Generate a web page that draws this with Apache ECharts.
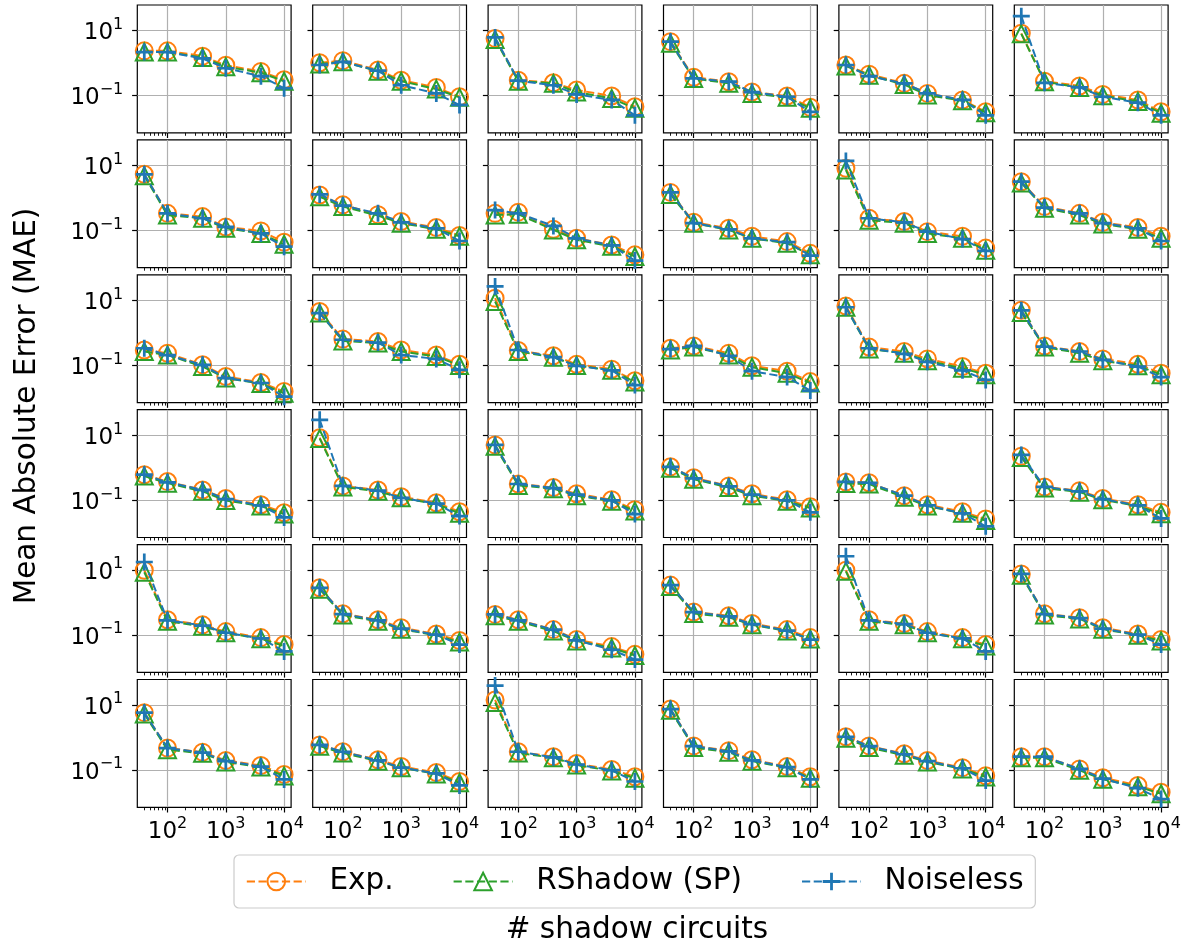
<!DOCTYPE html>
<html><head><meta charset="utf-8">
<script src="https://cdn.jsdelivr.net/npm/echarts@6/dist/echarts.min.js"></script>
<style>html,body{margin:0;padding:0;background:#fff}#c{width:1184px;height:951px}</style>
</head><body><div id="c"></div>
<script>
// ---- data ----
const shadowCounts = [40, 100, 400, 1000, 4000, 10000];
const seriesNames = ['Exp.', 'RShadow (SP)', 'Noiseless'];
const yTickExponents = [-1, 1];
const xTickExponents = [2, 3, 4];
const yTitle = 'Mean Absolute Error (MAE)';
const xTitle = '# shadow circuits';

const expMAE = [
  [2.4,2.4,1.65,0.86,0.56,0.31],
  [1.03,1.2,0.62,0.30,0.18,0.093],
  [5.8,0.30,0.25,0.15,0.098,0.046],
  [4.6,0.37,0.27,0.13,0.098,0.044],
  [0.88,0.46,0.24,0.118,0.074,0.032],
  [8.3,0.28,0.20,0.11,0.074,0.032],
  [5.4,0.34,0.27,0.13,0.098,0.044],
  [1.25,0.62,0.31,0.19,0.125,0.071],
  [0.34,0.37,0.11,0.058,0.036,0.018],
  [1.5,0.18,0.118,0.067,0.046,0.020],
  [8.3,0.24,0.19,0.093,0.067,0.029],
  [3.2,0.55,0.34,0.18,0.125,0.067],
  [0.30,0.24,0.105,0.046,0.030,0.016],
  [4.6,0.65,0.55,0.30,0.21,0.11],
  [11.8,0.29,0.20,0.11,0.077,0.034],
  [0.34,0.40,0.24,0.098,0.067,0.032],
  [6.8,0.37,0.27,0.16,0.093,0.058],
  [5.0,0.40,0.27,0.16,0.11,0.058],
  [0.62,0.38,0.21,0.115,0.074,0.042],
  [8.5,0.28,0.21,0.13,0.085,0.045],
  [5.1,0.32,0.25,0.16,0.105,0.052],
  [1.08,0.50,0.28,0.16,0.105,0.064],
  [0.37,0.35,0.14,0.074,0.045,0.027],
  [2.3,0.26,0.20,0.115,0.074,0.043],
  [10,0.30,0.21,0.13,0.085,0.052],
  [2.9,0.46,0.30,0.17,0.11,0.069],
  [0.44,0.30,0.15,0.074,0.045,0.026],
  [3.5,0.52,0.40,0.23,0.15,0.085],
  [10,0.30,0.23,0.13,0.085,0.052],
  [7.7,0.46,0.35,0.17,0.11,0.074],
  [5.9,0.48,0.36,0.20,0.14,0.074],
  [0.6,0.37,0.21,0.13,0.085,0.045],
  [14.5,0.37,0.26,0.16,0.105,0.063],
  [7.6,0.56,0.40,0.21,0.13,0.063],
  [1.07,0.56,0.32,0.20,0.12,0.068],
  [0.26,0.26,0.11,0.059,0.034,0.021]
];
const rshadowMAE = [
  [2.2,2.2,1.5,0.78,0.51,0.28],
  [0.94,1.1,0.57,0.28,0.16,0.089],
  [5.4,0.28,0.24,0.13,0.082,0.041],
  [4.1,0.34,0.24,0.118,0.089,0.041],
  [0.82,0.43,0.22,0.105,0.07,0.030],
  [8.0,0.27,0.18,0.10,0.067,0.029],
  [4.9,0.30,0.24,0.118,0.082,0.038],
  [1.1,0.55,0.29,0.17,0.11,0.067],
  [0.30,0.32,0.105,0.052,0.033,0.016],
  [1.3,0.17,0.105,0.058,0.041,0.018],
  [7.3,0.21,0.17,0.082,0.058,0.025],
  [2.9,0.49,0.30,0.16,0.11,0.058],
  [0.27,0.21,0.093,0.041,0.028,0.014],
  [4.1,0.57,0.49,0.27,0.19,0.10],
  [9.3,0.27,0.18,0.10,0.071,0.031],
  [0.30,0.37,0.21,0.089,0.058,0.029],
  [6.2,0.32,0.24,0.14,0.082,0.052],
  [4.3,0.37,0.24,0.14,0.098,0.052],
  [0.56,0.34,0.19,0.10,0.067,0.038],
  [8.0,0.26,0.19,0.12,0.078,0.040],
  [4.6,0.29,0.23,0.14,0.095,0.047],
  [0.98,0.45,0.25,0.14,0.095,0.058],
  [0.33,0.32,0.125,0.067,0.040,0.024],
  [2.1,0.24,0.18,0.105,0.067,0.039],
  [8.7,0.27,0.19,0.12,0.078,0.047],
  [2.6,0.42,0.27,0.155,0.10,0.062],
  [0.40,0.27,0.135,0.067,0.041,0.024],
  [3.2,0.47,0.36,0.21,0.135,0.077],
  [9.3,0.27,0.21,0.12,0.078,0.047],
  [7.0,0.42,0.32,0.155,0.10,0.067],
  [5.4,0.43,0.33,0.18,0.125,0.067],
  [0.55,0.34,0.19,0.12,0.077,0.041],
  [12,0.34,0.24,0.145,0.095,0.057],
  [7.0,0.50,0.36,0.19,0.12,0.057],
  [0.97,0.50,0.29,0.18,0.11,0.062],
  [0.24,0.24,0.10,0.053,0.031,0.019]
];
const noiselessMAE = [
  [2.2,2.2,1.4,0.70,0.40,0.17],
  [0.88,1.1,0.59,0.21,0.118,0.052],
  [6.2,0.29,0.21,0.11,0.074,0.025],
  [4.6,0.34,0.27,0.13,0.093,0.032],
  [0.88,0.40,0.24,0.118,0.074,0.025],
  [28,0.25,0.18,0.093,0.061,0.025],
  [5.4,0.34,0.24,0.13,0.082,0.032],
  [1.3,0.59,0.34,0.18,0.118,0.048],
  [0.43,0.34,0.14,0.058,0.035,0.012],
  [1.5,0.17,0.11,0.058,0.044,0.017],
  [13.9,0.24,0.18,0.093,0.055,0.024],
  [3.2,0.51,0.34,0.17,0.118,0.048],
  [0.34,0.21,0.105,0.041,0.029,0.011],
  [4.1,0.62,0.51,0.21,0.16,0.074],
  [27,0.30,0.18,0.098,0.071,0.025],
  [0.32,0.40,0.20,0.067,0.044,0.017],
  [6.2,0.34,0.23,0.13,0.071,0.036],
  [5.0,0.38,0.27,0.15,0.093,0.044],
  [0.62,0.36,0.21,0.11,0.07,0.03],
  [30,0.28,0.20,0.12,0.08,0.033],
  [5.1,0.32,0.24,0.15,0.10,0.038],
  [1.08,0.48,0.27,0.15,0.10,0.043],
  [0.37,0.35,0.14,0.07,0.04,0.016],
  [2.5,0.26,0.19,0.11,0.07,0.028],
  [18,0.29,0.20,0.12,0.08,0.032],
  [2.9,0.45,0.29,0.16,0.105,0.052],
  [0.44,0.29,0.15,0.07,0.036,0.018],
  [3.5,0.52,0.38,0.22,0.14,0.074],
  [27,0.29,0.22,0.12,0.08,0.032],
  [7.7,0.45,0.34,0.16,0.105,0.052],
  [5.9,0.48,0.35,0.19,0.13,0.052],
  [0.6,0.37,0.2,0.12,0.08,0.034],
  [40,0.37,0.25,0.15,0.10,0.045],
  [7.6,0.55,0.38,0.20,0.125,0.052],
  [1.07,0.55,0.31,0.19,0.115,0.048],
  [0.26,0.26,0.11,0.055,0.028,0.013]
];

// ---- layout & style ----
const FONT = 'DejaVu Sans';
const X_LOG_MIN = 1.4822, X_LOG_MAX = 4.1199;
const Y_LOG_MIN = -2.14, Y_LOG_MAX = 1.79;
const GL = 137.3, GT = 5, GW = 153.8, GH = 127.8, PX = 175.4, PY = 134.9;
const NCOL = 6, NROW = 6;
const colors = ['#ff7f0e', '#2ca02c', '#1f77b4'];
const PLUS = 'path://M4.2,0h1.6v4.2h4.2v1.6h-4.2v4.2h-1.6v-4.2h-4.2v-1.6h4.2z';

const minorLogs = [];
for (let d = 1; d <= 4; d++) for (let k = 2; k <= 9; k++) {
  const l = Math.log10(k * Math.pow(10, d));
  if (l > X_LOG_MIN && l < X_LOG_MAX) minorLogs.push(l);
}
function powLabel(v) {
  const e = Math.round(v);
  return '{b|10}{s|' + String(e).replace('-', '\u2212') + '}';
}
const rich = {
  b: {fontFamily: FONT, fontSize: 23, lineHeight: 28, verticalAlign: 'bottom', color: '#000'},
  s: {fontFamily: FONT, fontSize: 16, lineHeight: 16, verticalAlign: 'top', color: '#000'}
};

const grids = [], xAxes = [], yAxes = [], series = [];
const all = [expMAE, rshadowMAE, noiselessMAE];
for (let g = 0; g < NROW * NCOL; g++) {
  const r = Math.floor(g / NCOL), c = g % NCOL;
  grids.push({left: GL + c * PX, top: GT + r * PY, width: GW, height: GH,
    show: true, borderColor: '#000', borderWidth: 1.2, backgroundColor: 'transparent', containLabel: false});
  xAxes.push({type: 'log', gridIndex: g, min: Math.pow(10, X_LOG_MIN), max: Math.pow(10, X_LOG_MAX), show: false});
  xAxes.push({type: 'value', gridIndex: g, position: 'bottom', min: X_LOG_MIN, max: X_LOG_MAX, silent: true,
    axisLine: {show: false},
    axisTick: {show: true, customValues: xTickExponents, length: 5.2, lineStyle: {color: '#000', width: 1.2}},
    axisLabel: {show: r === NROW - 1, customValues: xTickExponents, formatter: powLabel, margin: 8.5, rich: rich},
    splitLine: {show: true, lineStyle: {color: '#b0b0b0', width: 1.2}}});
  xAxes.push({type: 'value', gridIndex: g, position: 'bottom', min: X_LOG_MIN, max: X_LOG_MAX, silent: true,
    axisLine: {show: false},
    axisTick: {show: true, customValues: minorLogs, length: 3, lineStyle: {color: '#000', width: 0.9}},
    axisLabel: {show: false}, splitLine: {show: false}});
  yAxes.push({type: 'log', gridIndex: g, min: Math.pow(10, Y_LOG_MIN), max: Math.pow(10, Y_LOG_MAX), show: false});
  yAxes.push({type: 'value', gridIndex: g, position: 'left', min: Y_LOG_MIN, max: Y_LOG_MAX, silent: true,
    axisLine: {show: false},
    axisTick: {show: true, customValues: yTickExponents, length: 5.2, lineStyle: {color: '#000', width: 1.2}},
    axisLabel: {show: c === 0, customValues: yTickExponents, formatter: powLabel, margin: 14, rich: rich},
    splitLine: {show: true, lineStyle: {color: '#b0b0b0', width: 1.2}}});
  for (let s = 0; s < 3; s++) {
    const isPlus = s === 2;
    series.push({
      type: 'line', name: seriesNames[s], xAxisIndex: 3 * g, yAxisIndex: 2 * g,
      data: shadowCounts.map((x, i) => [x, all[s][g][i]]),
      symbol: s === 0 ? 'circle' : (s === 1 ? 'triangle' : PLUS),
      symbolSize: 17, showAllSymbol: true,
      lineStyle: {color: colors[s], width: 2, type: [8.2, 3.5]},
      itemStyle: isPlus ? {color: colors[s]} : {color: 'transparent', borderColor: colors[s], borderWidth: 2},
      z: 2 + s, silent: true, animation: false, clip: true,
      emphasis: {disabled: true}
    });
  }
}

const chart = echarts.init(document.getElementById('c'), null, {renderer: 'canvas'});
chart.setOption({
  animation: false,
  backgroundColor: '#fff',
  grid: grids, xAxis: xAxes, yAxis: yAxes, series: series,
  legend: {
    data: seriesNames, left: 234, top: 855, orient: 'horizontal', selectedMode: false,
    padding: [11.5, 11.8, 11.5, 11.8], itemGap: 59, itemWidth: 59, itemHeight: 22,
    borderColor: '#cccccc', borderWidth: 1.2, borderRadius: 5, backgroundColor: '#fff',
    textStyle: {fontFamily: FONT, fontSize: 29.5, color: '#000', padding: [0, 0, 0, 18.6]}
  },
  graphic: [
    {type: 'text', x: 27, y: 406, rotation: Math.PI / 2,
      style: {text: yTitle, font: '29.5px "DejaVu Sans"', fill: '#000', textAlign: 'center', textVerticalAlign: 'middle', align: 'center', verticalAlign: 'middle'}},
    {type: 'text', x: 637, y: 930,
      style: {text: xTitle, font: '29.5px "DejaVu Sans"', fill: '#000', textAlign: 'center', textVerticalAlign: 'middle', align: 'center', verticalAlign: 'middle'}}
  ]
});
</script>
</body></html>
